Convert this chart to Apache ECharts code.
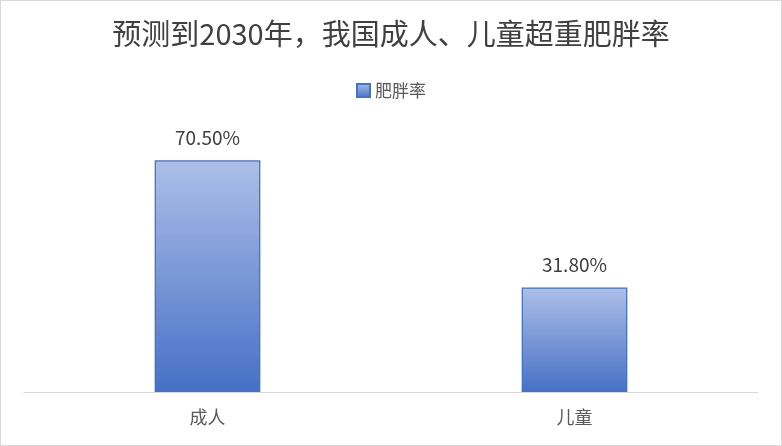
<!DOCTYPE html>
<html><head><meta charset="utf-8">
<script src="https://cdn.jsdelivr.net/npm/echarts@6/dist/echarts.min.js"></script>
<style>html,body{margin:0;padding:0;background:#fff}#c{width:782px;height:446px;box-sizing:border-box;border:1.5px solid #d9d9d9}</style>
</head><body><div id="c"></div>
<script>
const titleText = '预测到2030年，我国成人、儿童超重肥胖率';
const seriesName = '肥胖率';
const categories = ['成人', '儿童'];
const values = [70.5, 31.8];

const chart = echarts.init(document.getElementById('c'), null, {renderer: 'canvas'});
const grad = new echarts.graphic.LinearGradient(0, 0, 0, 1, [
  {offset: 0, color: '#adbfe7'},
  {offset: 1, color: '#4670c6'}
]);
chart.setOption({
  animation: false,
  textStyle: {fontFamily: '"Noto Sans CJK SC", "Noto Sans", sans-serif'},
  title: {
    text: titleText, left: 'center', top: 13,
    textStyle: {fontSize: 29, fontWeight: 'normal', color: '#404040', fontFamily: '"Noto Sans CJK SC", sans-serif'}
  },
  legend: {
    data: [{name: seriesName, icon: 'rect'}], top: 76, left: 'center',
    itemWidth: 13, itemHeight: 13, itemGap: 6,
    textStyle: {fontSize: 17, color: '#595959'}
  },
  grid: {left: 23, right: 23, top: 128, bottom: 53, containLabel: false},
  xAxis: {
    type: 'category', data: categories,
    axisLine: {lineStyle: {color: '#d9d9d9', width: 1}},
    axisTick: {show: false},
    axisLabel: {fontSize: 18, color: '#595959', margin: 16}
  },
  yAxis: {
    type: 'value', min: 0, max: 80, interval: 10,
    show: false, splitLine: {show: false}
  },
  series: [{
    name: seriesName, type: 'bar', data: values, barWidth: '28.8%',
    itemStyle: {color: grad, borderColor: '#4472c4', borderWidth: 1.3},
    label: {
      show: true, position: 'top', distance: 13, fontSize: 19, color: '#404040',
      formatter: p => p.value.toFixed(2) + '%'
    }
  }]
});
</script></body></html>
